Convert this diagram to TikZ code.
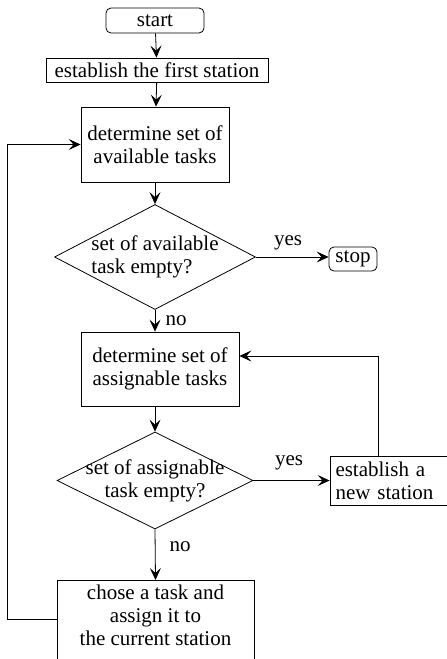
\documentclass[tikz,border=0pt]{standalone}
\usepackage{fontspec}
\setmainfont{Liberation Serif}
\usetikzlibrary{shapes.geometric,arrows.meta}
\tikzset{
  every node/.style={font=\fontsize{21}{23}\selectfont},
  box/.style={draw,line width=0.8pt,inner sep=0pt,align=center},
  term/.style={draw,line width=0.8pt,rounded corners=5pt,inner sep=0pt},
  dec/.style={draw,line width=0.8pt,diamond,inner xsep=-10pt,inner ysep=-8pt},
  lbl/.style={inner sep=0pt},
  flow/.style={line width=0.8pt,-{Stealth[length=12pt,width=11pt,inset=5pt]}},
  conn/.style={line width=0.8pt}
}
\begin{document}
\begin{tikzpicture}[x=1pt,y=-1pt]
\useasboundingbox (0,0) rectangle (447,659);
\clip (0,0) rectangle (447,659);
\node[term,minimum width=98pt,minimum height=25pt] (start) at (155,20.5) {start};
\node[box,minimum width=222pt,minimum height=24pt] (first) at (157,70) {establish the first station};
\node[box,minimum width=148pt,minimum height=75pt] (avail) at (155,144.5) {determine set of\\available tasks};
\node[dec,aspect=1.91,minimum width=201pt,minimum height=105pt,align=left] (dec1) at (155,257) {set of available\\task empty?};
\node[term,minimum width=48pt,minimum height=24pt] (stop) at (353,259) {stop};
\node[lbl] (yes1) at (288,243) {yes};
\node[lbl] (no1) at (176,321) {no};
\node[box,minimum width=158pt,minimum height=74pt] (assign) at (160,369) {determine set of\\assignable tasks};
\node[dec,aspect=2.02,minimum width=196pt,minimum height=97pt,align=center] (dec2) at (155,480.5) {set of assignable\\task empty?};
\node[lbl] (yes2) at (289,463) {yes};
\node[lbl] (no2) at (180,547) {no};
\node[box,minimum width=123pt,minimum height=49pt,align=left,text width=112pt] (newst) at (391.5,480.5) {establish a\\new station};
\node[box,anchor=north,minimum width=197pt,inner ysep=5pt,text depth=22pt] (chose) at (155.5,580) {chose a task and\\assign it to\\the current station};
\coordinate (loopR) at (378,356);
\coordinate (loopL) at (7,619);
\draw[flow] (start) -- (first);
\draw[flow] (first) -- (avail);
\draw[flow] (avail) -- (dec1);
\draw[flow] (dec1.east) -- (dec1.east -| stop.west);
\draw[flow] (dec1.south) -- (dec1.south |- assign.north);
\draw[flow] (assign.south -| dec2.north) -- (dec2.north);
\draw[flow] (dec2.east) -- (dec2.east -| newst.west);
\draw[flow] (dec2.south) -- (chose.north);
\draw[flow] (newst.north -| loopR) -- (loopR) -- (assign.east |- loopR);
\draw[flow] (chose.west |- loopL) -- (loopL) |- (avail.west);
\end{tikzpicture}
\end{document}
